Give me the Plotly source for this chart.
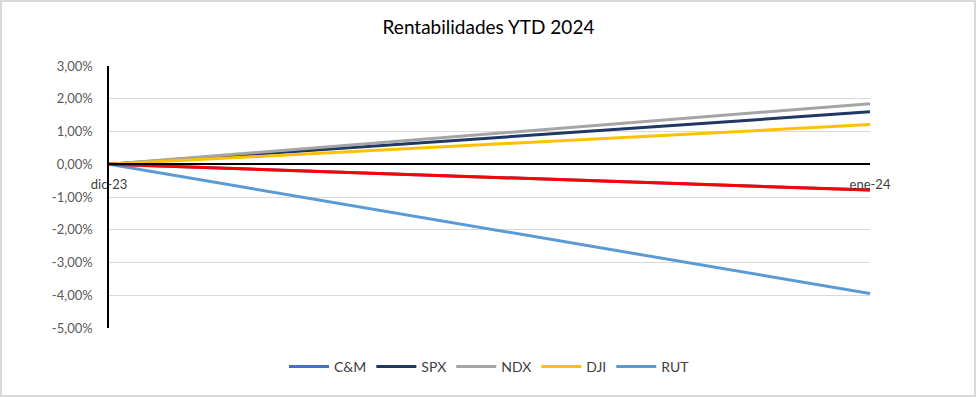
import plotly.graph_objects as go

categories = ["dic-23", "ene-24"]
series_names = ["C&M", "SPX", "NDX", "DJI", "RUT"]
cm_vals = [0.0, -0.0079]
spx_vals = [0.0, 0.0160]
ndx_vals = [0.0, 0.0185]
dji_vals = [0.0, 0.0121]
rut_vals = [0.0, -0.0395]
legend_colors = ["#4472C4", "#1F3864", "#A5A5A5", "#FFC000", "#5B9BD5"]
cm_line_color = "#FF0000"
y_ticks = [0.03, 0.02, 0.01, 0.0, -0.01, -0.02, -0.03, -0.04, -0.05]
y_labels = ["3,00%", "2,00%", "1,00%", "0,00%", "-1,00%", "-2,00%", "-3,00%", "-4,00%", "-5,00%"]

FONT = "Lato, 'Open Sans', sans-serif"
all_vals = [cm_vals, spx_vals, ndx_vals, dji_vals, rut_vals]

fig = go.Figure()
for name, vals, col in zip(series_names, all_vals, legend_colors):
    fig.add_trace(go.Scatter(x=categories, y=vals, mode="lines", name=name,
                             line=dict(color=col, width=3)))
# C&M line as it appears in the plot (red), drawn over its legend-colored copy
fig.add_trace(go.Scatter(x=categories, y=cm_vals, mode="lines", name="C&M",
                         showlegend=False, line=dict(color=cm_line_color, width=3)))

ymin, ymax = -0.05, 0.03
W, H = 977, 398
ml, mr, mt, mb = 109, 107, 66, 70
pw, ph = W - ml - mr, H - mt - mb

fig.update_layout(
    width=W, height=H,
    margin=dict(l=ml, r=mr, t=mt, b=mb),
    paper_bgcolor="white", plot_bgcolor="white",
    font=dict(family=FONT, size=13, color="#595959"),
    title=dict(text="Rentabilidades YTD 2024", x=0.5, xanchor="center",
               y=1 - 27 / H, yanchor="middle",
               font=dict(family=FONT, size=19, color="#000000")),
    xaxis=dict(type="category", range=[0, 1], showgrid=False, zeroline=False,
               showline=True, linecolor="#000000", linewidth=1.5,
               anchor="free", position=(0 - ymin) / (ymax - ymin),
               ticks="", ticklabelstandoff=8,
               tickfont=dict(family=FONT, size=13, color="#404040")),
    yaxis=dict(range=[ymin, ymax], tickvals=y_ticks, ticktext=y_labels,
               showgrid=True, gridcolor="#D9D9D9", gridwidth=1,
               zeroline=False, showline=True, linecolor="#000000", linewidth=1.5,
               ticks="", ticklabelstandoff=12,
               tickfont=dict(family=FONT, size=13, color="#595959")),
    legend=dict(orientation="h", x=0.5, xanchor="center", y=-(367 - 328) / ph,
                yanchor="middle", font=dict(family=FONT, size=14, color="#404040"),
                itemwidth=40, tracegroupgap=0),
    showlegend=True,
)

# outer chart border
fig.add_shape(type="rect", xref="paper", yref="paper",
              x0=(1 - ml) / pw, x1=(W - 2 - ml) / pw,
              y0=-(H - 2 - mt - ph) / ph, y1=1 + (mt - 1) / ph,
              line=dict(color="#D9D9D9", width=2), layer="below")

fig.write_html("out.html")
